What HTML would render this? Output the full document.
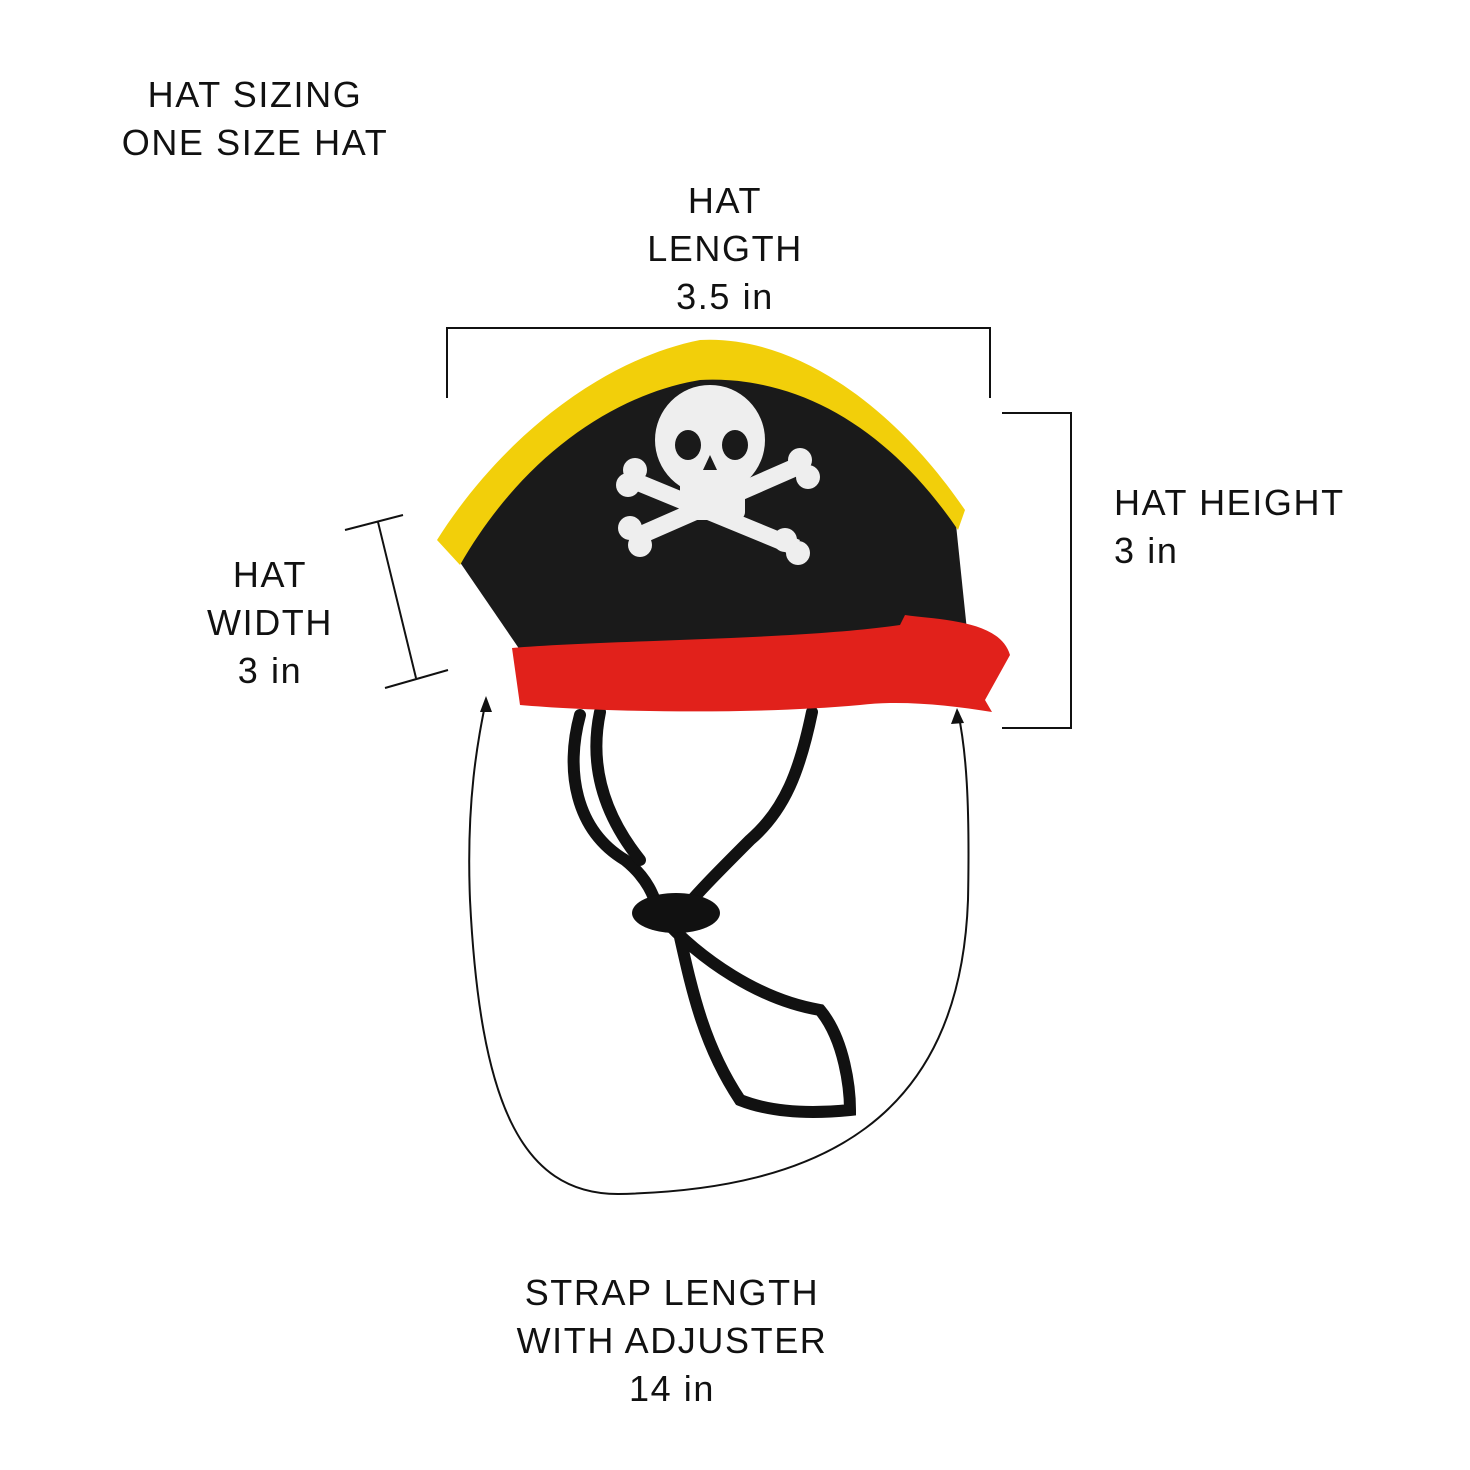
<!DOCTYPE html>
<html><head><meta charset="utf-8"><style>
html,body{margin:0;padding:0;background:#fff}
svg{display:block}
text{font-family:"Liberation Sans",sans-serif;fill:#111;font-size:36px;letter-spacing:1.6px}
</style></head><body>
<svg width="1470" height="1470" viewBox="0 0 1470 1470" xmlns="http://www.w3.org/2000/svg">
<text x="255" y="107" text-anchor="middle">HAT SIZING</text>
<text x="255" y="155" text-anchor="middle">ONE SIZE HAT</text>
<text x="725" y="213" text-anchor="middle">HAT</text>
<text x="725" y="261" text-anchor="middle">LENGTH</text>
<text x="725" y="309" text-anchor="middle">3.5 in</text>
<text x="1114" y="515">HAT HEIGHT</text>
<text x="1114" y="563">3 in</text>
<text x="270" y="587" text-anchor="middle">HAT</text>
<text x="270" y="635" text-anchor="middle">WIDTH</text>
<text x="270" y="683" text-anchor="middle">3 in</text>
<text x="672" y="1305" text-anchor="middle">STRAP LENGTH</text>
<text x="672" y="1353" text-anchor="middle">WITH ADJUSTER</text>
<text x="672" y="1401" text-anchor="middle">14 in</text>

<g stroke="#111" stroke-width="2" fill="none">
<path d="M447 398 V328 H990 V398"/>
<path d="M1002 413 H1071 V728 H1002"/>
<path d="M345 530 L403 515 M378 522 L416 678 M385 688 L448 670"/>
<path d="M618 1194 C520 1194 480 1100 470 900 C466 800 478 740 486 700"/>
<path d="M618 1194 C820 1190 960 1120 968 900 C970 800 966 750 958 712"/>
</g>
<path d="M486 696 L480 712 L492 712 Z" fill="#111"/>
<path d="M957 708 L951 724 L964 723 Z" fill="#111"/>

<g stroke="#111" stroke-width="12" fill="none" stroke-linecap="round">
<path d="M580 715 C565 770 575 830 625 860 C650 880 655 900 660 915 C700 960 760 1000 820 1010 C845 1040 850 1090 850 1110 C800 1115 765 1110 740 1100 C700 1040 690 980 675 915"/>
<path d="M600 712 C590 760 600 810 640 860"/>
<path d="M812 712 C800 770 785 810 750 840 C720 870 690 900 680 915"/>
</g>
<ellipse cx="676" cy="913" rx="44" ry="20" fill="#111"/>

<path d="M455 555 C520 450 610 385 700 372 C800 365 900 430 955 515 L968 640 L520 650 Z" fill="#1a1a1a"/>
<path d="M437 540 C500 440 600 360 700 340 C790 335 890 400 965 510 L958 530 C890 430 800 375 700 380 C610 395 520 460 460 565 Z" fill="#f2cf0a"/>
<path d="M512 648 C600 640 800 640 900 625 L905 615 C940 620 1000 620 1010 655 L985 700 L992 712 C950 705 900 700 860 705 C750 715 600 712 520 705 Z" fill="#e1211b"/>
<g fill="#eeeeee">
<circle cx="710" cy="440" r="55"/>
<rect x="680" y="460" width="65" height="60" rx="8"/>
<path d="M630 470 L800 540 L792 555 L622 485 Z"/>
<path d="M790 460 L800 475 L640 545 L630 530 Z"/>
<circle cx="635" cy="470" r="12"/><circle cx="628" cy="485" r="12"/>
<circle cx="800" cy="460" r="12"/><circle cx="808" cy="477" r="12"/>
<circle cx="630" cy="528" r="12"/><circle cx="640" cy="545" r="12"/>
<circle cx="785" cy="540" r="12"/><circle cx="798" cy="553" r="12"/>
</g>
<g fill="#1a1a1a">
<ellipse cx="688" cy="445" rx="13" ry="15"/>
<ellipse cx="735" cy="445" rx="13" ry="15"/>
<path d="M710 455 L703 470 L717 470 Z"/>
</g>
</svg>
</body></html>
